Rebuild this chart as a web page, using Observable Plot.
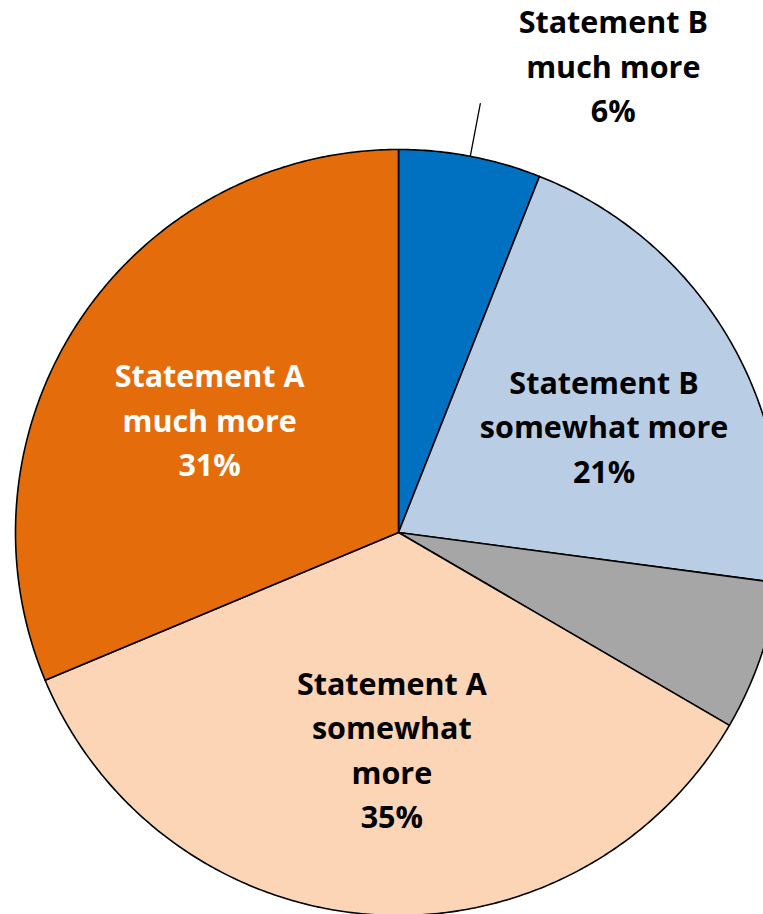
<!DOCTYPE html>
<html>
<head>
<meta charset="utf-8">
<script src="https://cdn.jsdelivr.net/npm/d3@7"></script>
<script src="https://cdn.jsdelivr.net/npm/@observablehq/plot@0.6"></script>
<style>
  html, body { margin: 0; padding: 0; background: #fff; overflow: hidden; }
  #chart svg { display: block; overflow: visible; }
</style>
</head>
<body>
<div id="chart"></div>
<script>
// Data (clockwise from 12 o'clock)
const categories = [
  "Statement B much more",
  "Statement B somewhat more",
  "No difference",
  "Statement A somewhat more",
  "Statement A much more"
];
const values = [6.0, 21.1, 6.3, 35.3, 31.3];
const labelNames = [
  "Statement B\nmuch more",
  "Statement B\nsomewhat more",
  "",
  "Statement A\nsomewhat\nmore",
  "Statement A\nmuch more"
];
const colors = ["#0070C0", "#B9CDE5", "#A6A6A6", "#FBD5B5", "#E46C0A"];
const labelColors = ["#000000", "#000000", "#000000", "#000000", "#FFFFFF"];

// Build slice geometry from the values with d3.pie
const arcs = d3.pie().sort(null).value(d => d)(values);
const polys = [];
arcs.forEach((a, i) => {
  const steps = Math.max(2, Math.ceil((a.endAngle - a.startAngle) / (Math.PI / 360)));
  polys.push({cat: categories[i], x: 0, y: 0});
  for (let k = 0; k <= steps; k++) {
    const t = a.startAngle + (a.endAngle - a.startAngle) * k / steps;
    polys.push({cat: categories[i], x: Math.sin(t), y: Math.cos(t)});
  }
  polys.push({cat: categories[i], x: 0, y: 0});
});

const mid = a => (a.startAngle + a.endAngle) / 2;
const labels = arcs.map((a, i) => ({
  i, text: labelNames[i] + "\n" + Math.round(values[i]) + "%", color: labelColors[i],
  x: 0.58 * Math.sin(mid(a)), y: 0.58 * Math.cos(mid(a)),
  ox: 1.14 * Math.sin(mid(a)), oy: 1.14 * Math.cos(mid(a)),
  ex: Math.sin(mid(a)), ey: Math.cos(mid(a))
}));
const leader = labels.filter(d => d.i === 0).flatMap(d => [
  {x: d.ex, y: d.ey, g: d.i},
  {x: d.ox, y: d.oy, g: d.i}
]);

const font = {fontSize: 30.5, fontWeight: 700, lineHeight: 1.46, lineAnchor: "middle"};
const lbl = (i, dx, dy) => Plot.text(labels.filter(d => d.i === i),
  {x: "x", y: "y", text: "text", fill: "color", dx, dy, ...font});

const chart = Plot.plot({
  width: 763,
  height: 914,
  margin: 0,
  x: {domain: [-1, 1], range: [15, 781], axis: null},
  y: {domain: [-1, 1], range: [915, 149], axis: null},
  color: {domain: categories, range: colors},
  style: {fontFamily: "'Open Sans', Lato, sans-serif", background: "#fff"},
  marks: [
    Plot.line(polys, {x: "x", y: "y", z: "cat", fill: "cat", stroke: "#000", strokeWidth: 1.6, strokeLinejoin: "round", curve: "linear"}),
    Plot.line(leader, {x: "x", y: "y", z: "g", stroke: "#000", strokeWidth: 1.3}),
    lbl(1, 14, 4),
    lbl(3, 8, -7),
    lbl(4, -4, 8),
    Plot.text(labels.filter(d => d.i === 0), {x: "ox", y: "oy", text: "text", fill: "color", dx: 133, dy: -40, ...font})
  ]
});
document.getElementById("chart").append(chart);
</script>
</body>
</html>
